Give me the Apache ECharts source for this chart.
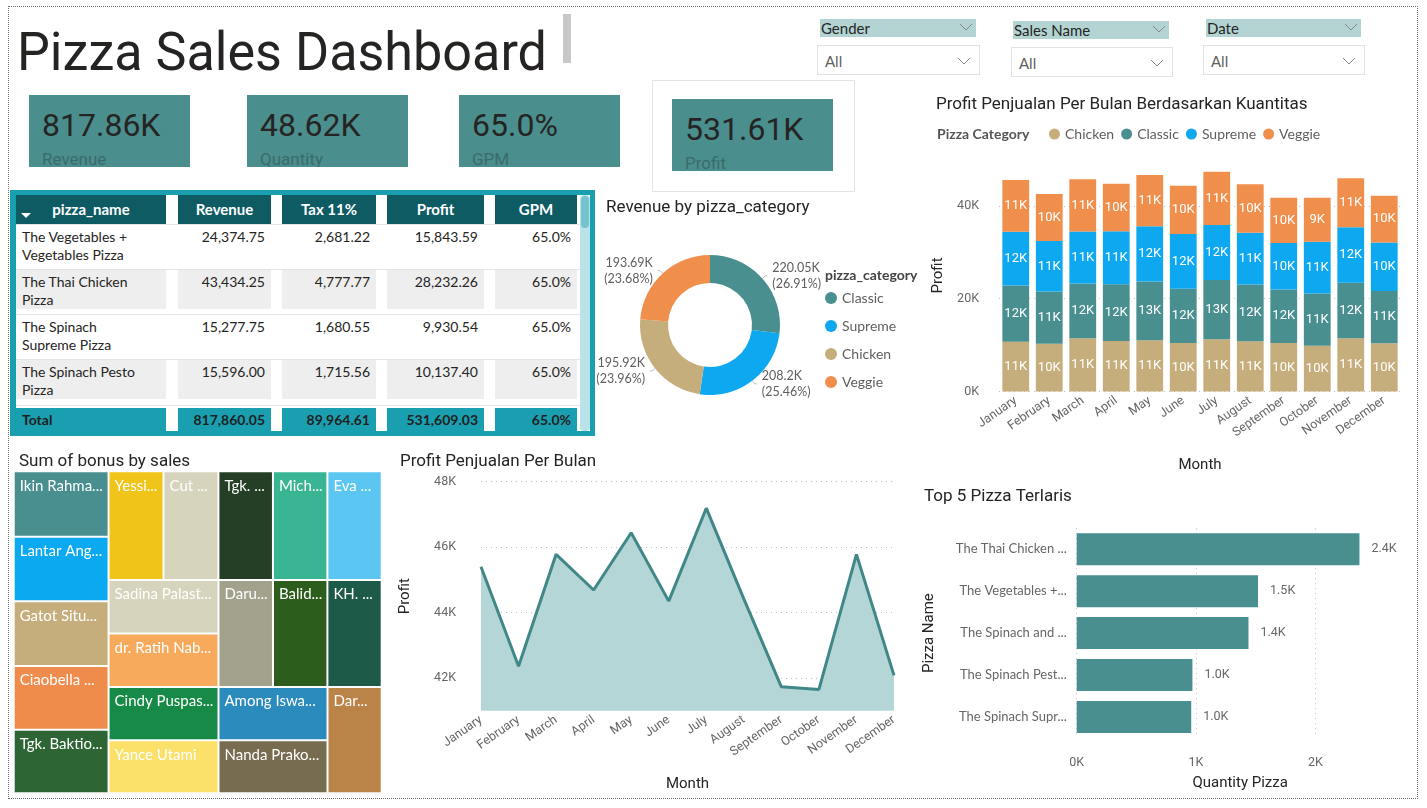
<!DOCTYPE html>
<html>
<head>
  <meta charset="UTF-8">
  <title>Pizza Sales Dashboard</title>
  <script src="https://cdn.jsdelivr.net/npm/echarts@6/dist/echarts.min.js"></script>
  <style>
    body { margin: 0; background: #fff; }
    #page { position: relative; width: 1427px; height: 808px; overflow: hidden;
            font-family: 'Segoe UI', Lato, sans-serif; color: #252423; }
    .abs { position: absolute; }
    #frame { left: 8px; top: 6px; width: 1408px; height: 791px; border: 1px dotted #6f6f6f; }
    #title { left: 17px; top: 25px; font-family: Roboto, sans-serif; font-size: 54px; line-height: 54px;
             white-space: nowrap; transform: scaleX(0.965); transform-origin: left top; color: #252423; }
    .card { background: #4b8e8e; overflow: hidden; }
    .card .val { position: absolute; left: 13px; top: 14px; font-family: Roboto, sans-serif; font-size: 32px; line-height: 32px; color: #252423; }
    .card .lbl { position: absolute; left: 13px; top: 56px; font-family: Roboto, sans-serif; font-size: 17px; line-height: 17px; color: #3a6b6b; }
    .slhead { background: #b3d4d3; font-size: 15px; line-height: 18px; padding-left: 1px; }
    .slbox { background: #fff; border: 1px solid #e1e1e1; font-size: 15px; color: #605e5c; }
    .cell { position: absolute; font-size: 14px; line-height: 18px; }
  </style>
</head>
<body>
<div id="page">
  <div id="frame" class="abs"></div>
  <div id="title" class="abs">Pizza Sales Dashboard</div>
  <div class="abs" style="left:563px;top:14px;width:8px;height:49px;background:#c8c8c8"></div>
  <div class="abs" style="left:652px;top:80px;width:201px;height:110px;border:1px solid #e3e3e3"></div>
  <div id="table" class="abs" style="left:10px;top:190px;width:585px;height:246px;background:#1a9fb1"></div>
  <div id="donut" class="abs" style="left:597px;top:192px;width:328px;height:240px"></div>
  <div id="stack" class="abs" style="left:920px;top:88px;width:500px;height:392px"></div>
  <div id="tree" class="abs" style="left:8px;top:444px;width:382px;height:352px"></div>
  <div id="area" class="abs" style="left:390px;top:444px;width:525px;height:356px"></div>
  <div id="top5" class="abs" style="left:910px;top:480px;width:506px;height:316px"></div>
</div>

<script>
  // ---- data ----
  var kpiLabels = ['Revenue', 'Quantity', 'GPM', 'Profit'];
  var kpiValues = ['817.86K', '48.62K', '65.0%', '531.61K'];

  var slicerLabels = ['Gender', 'Sales Name', 'Date'];
  var slicerValues = ['All', 'All', 'All'];

  var tableHeaders = ['pizza_name', 'Revenue', 'Tax 11%', 'Profit', 'GPM'];
  var tablePizzas = ['The Vegetables + Vegetables Pizza', 'The Thai Chicken Pizza', 'The Spinach Supreme Pizza', 'The Spinach Pesto Pizza'];
  var tableRevenue = [24374.75, 43434.25, 15277.75, 15596.00];
  var tableTax = [2681.22, 4777.77, 1680.55, 1715.56];
  var tableProfit = [15843.59, 28232.26, 9930.54, 10137.40];
  var tableGpm = [0.65, 0.65, 0.65, 0.65];
  var tableTotals = [817860.05, 89964.61, 531609.03, 0.65];

  var revenueCategories = ['Classic', 'Supreme', 'Chicken', 'Veggie'];
  var revenueValues = [220050, 208200, 195920, 193690];

  var months = ['January', 'February', 'March', 'April', 'May', 'June', 'July', 'August', 'September', 'October', 'November', 'December'];
  var pizzaCategories = ['Chicken', 'Classic', 'Supreme', 'Veggie'];
  var chickenProfit = [10700, 10270, 11450, 10910, 11070, 10450, 11280, 10850, 10450, 9840, 11450, 10420];
  var classicProfit = [12120, 11260, 11840, 12200, 12620, 11690, 12770, 12190, 11540, 11260, 11970, 11260];
  var supremeProfit = [11630, 10910, 11190, 11450, 11930, 11780, 11840, 11190, 9990, 11190, 11990, 10450];
  var veggieProfit = [11130, 10120, 11280, 10200, 11040, 10400, 11470, 10420, 9750, 9470, 10550, 10050];

  var monthlyProfit = [45400, 42360, 45780, 44690, 46440, 44350, 47190, 44420, 41730, 41650, 45780, 42080];

  var topPizzaNames = ['The Thai Chicken Pizza', 'The Vegetables + Vegetables Pizza', 'The Spinach and Feta Pizza', 'The Spinach Pesto Pizza', 'The Spinach Supreme Pizza'];
  var topPizzaQty = [2370, 1520, 1440, 970, 960];

  var salesNames = ['Ikin Rahma...', 'Lantar Ang...', 'Gatot Situ...', 'Ciaobella ...', 'Tgk. Baktio...',
    'Yessi...', 'Cut ...', 'Tgk. ...', 'Mich...', 'Eva ...',
    'Sadina Palast...', 'dr. Ratih Nab...', 'Cindy Puspas...', 'Yance Utami',
    'Daru...', 'Balid...', 'KH. ...', 'Among Iswa...', 'Nanda Prako...', 'Dar...'];
  var salesBonus = [5404, 5348, 5340, 5268, 5262, 5200, 5196, 5160, 5152, 5140,
    5132, 5120, 5100, 5090, 5088, 5080, 5070, 5060, 5040, 5020];

  // ---- styles ----
  var TEAL = '#4a8f8f';
  var catColors = { Chicken: '#c5ae7c', Classic: '#4a8f8f', Supreme: '#0ea8f0', Veggie: '#f08e4c' };
  var treeColors = ['#4a8f8f', '#0aa9f0', '#c5ae7c', '#ef8c4c', '#2e6535', '#f0c419', '#d6d4bd', '#243f26', '#39b594', '#5bc6f1',
    '#d6d4bd', '#f7aa5c', '#188a47', '#fbe16a', '#a2a28c', '#2d5d1c', '#1e5a48', '#2b8bbd', '#776b50', '#ba8448'];
  var DIN = 'Roboto, sans-serif';
  var SEGOE = "'Segoe UI', Lato, sans-serif";
  var AXIS_GREY = '#666';

  var page = document.getElementById('page');
  function el(tag, css, html, parent) {
    var d = document.createElement(tag);
    d.style.cssText = css;
    if (html != null) d.innerHTML = html;
    (parent || page).appendChild(d);
    return d;
  }
  function chevron(x, y) {
    return '<svg class="abs" style="left:' + x + 'px;top:' + y + 'px" width="14" height="8"><polyline points="1,1 7,7 13,1" fill="none" stroke="#8a8886" stroke-width="1"/></svg>';
  }

  // KPI cards
  var cardPos = [[29, 95], [247, 95], [459, 95], [672, 99]];
  kpiLabels.forEach(function (lbl, i) {
    var c = el('div', 'left:' + cardPos[i][0] + 'px;top:' + cardPos[i][1] + 'px;width:161px;height:72px');
    c.className = 'abs card';
    el('div', '', kpiValues[i], c).className = 'val';
    el('div', '', lbl, c).className = 'lbl';
  });

  // slicers
  var slicerHead = [[820, 19, 155], [1013, 21, 155], [1206, 19, 154]];
  var slicerBox = [[817, 45, 161], [1011, 47, 160], [1203, 45, 160]];
  slicerLabels.forEach(function (lbl, i) {
    var h = el('div', 'left:' + slicerHead[i][0] + 'px;top:' + slicerHead[i][1] + 'px;width:' + slicerHead[i][2] + 'px;height:18px',
      lbl + chevron(slicerHead[i][2] - 16, 4));
    h.className = 'abs slhead';
    var b = el('div', 'left:' + slicerBox[i][0] + 'px;top:' + slicerBox[i][1] + 'px;width:' + slicerBox[i][2] + 'px;height:28px',
      '<span class="abs" style="left:7px;top:6px">' + slicerValues[i] + '</span>' + chevron(slicerBox[i][2] - 22, 11));
    b.className = 'abs slbox';
  });

  // table
  (function () {
    var t = document.getElementById('table');
    el('div', 'left:6px;top:5px;width:574px;height:236px;background:#fff', null, t).className = 'abs';
    var colX = [6, 168, 272, 377, 485];
    var colW = [150, 93, 94, 97, 82];
    function fmt(v) { return v.toLocaleString('en-US', { minimumFractionDigits: 2, maximumFractionDigits: 2 }); }
    function pct(v) { return (v * 100).toFixed(1) + '%'; }
    tableHeaders.forEach(function (h, c) {
      var d = el('div', 'left:' + colX[c] + 'px;top:5px;width:' + colW[c] + 'px;height:29px;background:#0e5b64;color:#fff;font-weight:bold;text-align:center;line-height:29px;font-size:15px', h, t);
      d.className = 'abs';
    });
    el('div', 'left:11px;top:23px;width:0;height:0;border-left:5px solid transparent;border-right:5px solid transparent;border-top:5px solid #fff', null, t).className = 'abs';
    var cols = [tablePizzas, tableRevenue, tableTax, tableProfit, tableGpm];
    for (var r = 0; r < tablePizzas.length; r++) {
      var y = 35 + r * 45;
      el('div', 'left:6px;top:' + (y - 1) + 'px;width:571px;height:1px;background:#e6e6e6', null, t).className = 'abs';
      for (var c = 0; c < cols.length; c++) {
        var bg = r % 2 === 1 ? '#eeeeee' : '#fff';
        var txt = c === 0 ? cols[c][r] : (c === 4 ? pct(cols[c][r]) : fmt(cols[c][r]));
        var box = el('div', 'left:' + colX[c] + 'px;top:' + y + 'px;width:' + colW[c] + 'px;height:39px;background:' + bg, null, t);
        box.className = 'abs';
        if (c === 0) {
          el('div', 'left:6px;top:3px;width:128px', txt, box).className = 'cell';
        } else {
          el('div', 'right:6px;top:3px;text-align:right', txt, box).className = 'cell';
        }
      }
    }
    el('div', 'left:6px;top:215px;width:571px;height:1px;background:#e6e6e6', null, t).className = 'abs';
    var totals = ['Total'].concat(tableTotals.map(function (v, i) { return i === 3 ? pct(v) : fmt(v); }));
    totals.forEach(function (v, c) {
      var d = el('div', 'left:' + colX[c] + 'px;top:218px;width:' + colW[c] + 'px;height:23px;background:#1a9fb1;font-weight:bold;font-size:14px;line-height:23px;color:#1f1f1f', null, t);
      d.className = 'abs';
      el('div', (c === 0 ? 'left:6px;' : 'right:6px;') + 'top:0;line-height:23px', v, d).className = 'cell';
    });
    el('div', 'left:570px;top:5px;width:10px;height:236px;background:#b9e3e9;border-radius:4px', null, t).className = 'abs';
    el('div', 'left:571px;top:6px;width:8px;height:32px;background:#74c3ce;border-radius:4px', null, t).className = 'abs';
  })();

  function fmtK(v) { return (v / 1000) + 'K'; }
  var titleStyle = { fontFamily: DIN, fontSize: 17, fontWeight: 'normal', color: '#252423' };
  var splitDotted = { show: true, lineStyle: { type: [1, 4], color: '#bdbdbd', width: 1 } };

  // donut
  var donut = echarts.init(document.getElementById('donut'));
  var revenueSum = revenueValues.reduce(function (a, b) { return a + b; }, 0);
  donut.setOption({
    title: [
      { text: 'Revenue by pizza_category', left: 4, top: 2, textStyle: titleStyle },
      { text: 'pizza_category', left: 223, top: 71, textStyle: { fontFamily: SEGOE, fontSize: 14, fontWeight: 'bold', color: '#444' } }
    ],
    legend: {
      orient: 'vertical', left: 223, top: 94, itemGap: 14, icon: 'circle', itemWidth: 12, itemHeight: 12,
      textStyle: { fontFamily: SEGOE, fontSize: 14, color: '#605e5c', lineHeight: 14 },
      data: revenueCategories
    },
    series: [{
      type: 'pie', center: [113, 133], radius: [42, 70], startAngle: 90, clockwise: true,
      avoidLabelOverlap: false,
      label: {
        fontFamily: SEGOE, fontSize: 12.5, lineHeight: 16, color: '#605e5c', overflow: 'none',
        formatter: function (p) {
          return parseFloat((p.value / 1000).toFixed(2)) + 'K\n(' + (p.value / revenueSum * 100).toFixed(2) + '%)';
        }
      },
      labelLine: { length: 4, length2: 2, lineStyle: { color: '#bbb' } },
      data: revenueCategories.map(function (c, i) { return { name: c, value: revenueValues[i], itemStyle: { color: catColors[c] } }; })
    }]
  });

  // stacked monthly profit
  var stack = echarts.init(document.getElementById('stack'));
  var stackData = [chickenProfit, classicProfit, supremeProfit, veggieProfit];
  stack.setOption({
    title: [
      { text: 'Profit Penjualan Per Bulan Berdasarkan Kuantitas', left: 11, top: 3, textStyle: titleStyle },
      { text: 'Pizza Category', left: 12, top: 34, textStyle: { fontFamily: SEGOE, fontSize: 14, fontWeight: 'bold', color: '#555' } }
    ],
    legend: {
      left: 124, top: 34, itemGap: 7, icon: 'circle', itemWidth: 11, itemHeight: 11,
      textStyle: { fontFamily: SEGOE, fontSize: 14, color: '#605e5c' },
      data: pizzaCategories
    },
    grid: { left: 79, top: 71.5, width: 402, height: 232, containLabel: false },
    xAxis: {
      type: 'category', data: months,
      axisLine: { show: false }, axisTick: { show: false },
      axisLabel: { interval: 0, rotate: 35, margin: 8, fontFamily: DIN, fontSize: 12.5, color: AXIS_GREY },
      name: 'Month', nameLocation: 'middle', nameGap: 66,
      nameTextStyle: { fontFamily: DIN, fontSize: 15, color: '#252423' }
    },
    yAxis: {
      type: 'value', min: 0, max: 50000, interval: 20000,
      axisLabel: { formatter: fmtK, fontFamily: DIN, fontSize: 12.5, color: AXIS_GREY, margin: 20, showMaxLabel: false },
      splitLine: Object.assign({ showMaxLine: false }, splitDotted),
      name: 'Profit', nameLocation: 'middle', nameGap: 52,
      nameTextStyle: { fontFamily: DIN, fontSize: 15, color: '#252423' }
    },
    series: pizzaCategories.map(function (c, i) {
      return {
        name: c, type: 'bar', stack: 'profit', data: stackData[i], barCategoryGap: '20%',
        itemStyle: { color: catColors[c] },
        label: {
          show: true, position: 'inside', color: '#fff', fontFamily: DIN, fontSize: 13,
          formatter: function (p) { return Math.round(p.value / 1000) + 'K'; }
        }
      };
    })
  });

  // treemap
  var tree = echarts.init(document.getElementById('tree'));
  tree.setOption({
    title: { text: 'Sum of bonus by sales', left: 6, top: 4, textStyle: titleStyle },
    series: [{
      type: 'treemap', left: 6.7, top: 28.3, width: 366, height: 320,
      roam: false, nodeClick: false, breadcrumb: { show: false },
      itemStyle: { borderWidth: 0, gapWidth: 2, borderColor: '#fff' },
      label: {
        show: true, position: 'insideTopLeft', color: '#fff', fontFamily: SEGOE, fontSize: 15,
        padding: [6, 0, 6, 5], overflow: 'truncate', formatter: '{b}'
      },
      data: salesNames.map(function (n, i) { return { name: n, value: salesBonus[i], itemStyle: { color: treeColors[i] } }; })
    }]
  });

  // area chart monthly profit
  var area = echarts.init(document.getElementById('area'));
  area.setOption({
    title: { text: 'Profit Penjualan Per Bulan', left: 5, top: 4, textStyle: titleStyle },
    grid: { left: 90.7, top: 37.7, width: 413.3, height: 229 },
    xAxis: {
      type: 'category', data: months, boundaryGap: false,
      axisLine: { show: false }, axisTick: { show: false },
      axisLabel: { interval: 0, rotate: 35, margin: 8, fontFamily: DIN, fontSize: 12.5, color: AXIS_GREY },
      name: 'Month', nameLocation: 'middle', nameGap: 66,
      nameTextStyle: { fontFamily: DIN, fontSize: 15, color: '#252423' }
    },
    yAxis: {
      type: 'value', min: 41000, max: 48000, splitNumber: 3,
      axisLabel: { formatter: fmtK, fontFamily: DIN, fontSize: 12.5, color: AXIS_GREY, margin: 25, showMinLabel: false },
      splitLine: Object.assign({ showMinLine: false }, splitDotted),
      name: 'Profit', nameLocation: 'middle', nameGap: 68,
      nameTextStyle: { fontFamily: DIN, fontSize: 15, color: '#252423' }
    },
    series: [{
      type: 'line', data: monthlyProfit, symbol: 'none',
      lineStyle: { color: '#418787', width: 3 },
      areaStyle: { color: '#b5d6d7', opacity: 1 }
    }]
  });

  // top 5 pizza
  var top5 = echarts.init(document.getElementById('top5'));
  top5.setOption({
    title: { text: 'Top 5 Pizza Terlaris', left: 9, top: 3, textStyle: titleStyle },
    grid: { left: 166.7, top: 48.2, width: 326.9, height: 211.2 },
    xAxis: {
      type: 'value', min: 0, max: 2740, interval: 1000,
      axisLabel: { formatter: fmtK, fontFamily: DIN, fontSize: 12.5, color: AXIS_GREY, margin: 18, showMaxLabel: false },
      splitLine: Object.assign({ showMaxLine: false }, splitDotted),
      name: 'Quantity Pizza', nameLocation: 'middle', nameGap: 38,
      nameTextStyle: { fontFamily: DIN, fontSize: 15, color: '#252423' }
    },
    yAxis: {
      type: 'category', data: topPizzaNames, inverse: true,
      axisLine: { show: false }, axisTick: { show: false },
      axisLabel: { width: 114, overflow: 'truncate', ellipsis: '...', margin: 10, fontFamily: SEGOE, fontSize: 13, color: AXIS_GREY },
      name: 'Pizza Name', nameLocation: 'middle', nameGap: 140,
      nameTextStyle: { fontFamily: DIN, fontSize: 15, color: '#252423' }
    },
    series: [{
      type: 'bar', data: topPizzaQty, barWidth: 32,
      itemStyle: { color: TEAL },
      label: {
        show: true, position: 'right', distance: 12, fontFamily: DIN, fontSize: 12.5, color: AXIS_GREY,
        formatter: function (p) { return (p.value / 1000).toFixed(1) + 'K'; }
      }
    }]
  });
</script>
</body>
</html>
